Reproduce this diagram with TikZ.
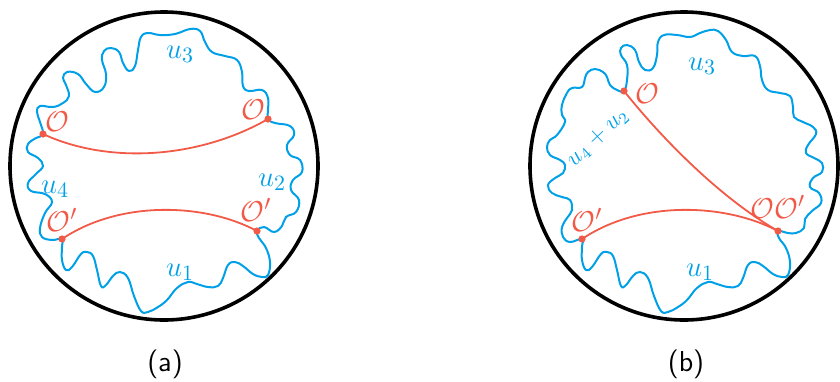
\documentclass[tikz,border=0pt]{standalone}
\usepackage{tikz}

\definecolor{wavecol}{RGB}{0,160,232}
\definecolor{opcol}{RGB}{242,90,72}

\begin{document}
\begin{tikzpicture}[x=0.5pt,y=-0.5pt,
    bdry/.style={line width=1.8pt},
    wave/.style={wavecol,line width=1pt},
    geod/.style={opcol,line width=0.9pt},
    opdot/.style={circle,fill=opcol,inner sep=0pt,minimum size=3.6pt},
    ulab/.style={wavecol,font=\fontsize{15}{17}\selectfont},
    olab/.style={opcol,font=\fontsize{15}{17}\selectfont},
    caplab/.style={font=\sffamily\Large}]
  \useasboundingbox (0,0) rectangle (840,381);

  % (a)
  \begin{scope}
   \draw[bdry] (164,166) circle (77pt);
   \coordinate (aol) at (43,134);
   \coordinate (aor) at (268,119);
   \coordinate (apl) at (62,239);
   \coordinate (apr) at (257,231);
   \draw[wave] plot[smooth cycle,tension=0.7] coordinates {
     (aol) (40,122) (37,112) (40,106) (53,107) (63,103) (69,96) (66,85) (63,78)
     (67,72) (78,74) (86,84) (95,92) (104,87) (106,74) (102,60) (104,51) (111,48)
     (119,52) (123,63) (129,71) (135,66) (138,50) (141,37) (148,33) (160,35)
     (175,34) (190,29) (200,31) (205,42) (212,52) (225,56) (237,60) (242,72)
     (243,86) (249,91) (262,90) (268,98) (268,110) (aor)
     (275,123) (290,126) (294,135) (287,145) (290,155) (300,160) (302,172)
     (293,180) (291,190) (299,200) (296,212) (286,217) (282,226) (274,232)
     (264,227) (apr)
     (259,238) (266,248) (270,262) (268,275) (262,277) (253,274) (243,266)
     (235,262) (228,265) (223,278) (218,286) (208,287) (197,284) (188,282)
     (177,288) (167,300) (158,307) (148,312) (141,311) (134,296) (128,278)
     (120,272) (113,276) (106,285) (101,286) (97,270) (93,256) (87,252) (81,254)
     (72,267) (66,270) (62,260) (62,247) (apl)
     (52,240) (42,237) (40,228) (45,213) (52,202) (45,194) (31,191) (28,183)
     (36,174) (43,166) (38,158) (28,152) (28,144) (36,138)};
   \draw[geod] (aol) .. controls (110,165) and (200,158) .. (aor);
   \draw[geod] (apl) .. controls (120,200) and (205,203) .. (apr);
   \node[opdot] at (aol) {};
   \node[opdot] at (aor) {};
   \node[opdot] at (apl) {};
   \node[opdot] at (apr) {};
   \node[ulab] (au3) at (180,54) {$u_3$};
   \node[ulab] (au2) at (272,182) {$u_2$};
   \node[ulab] (au4) at (55,189) {$u_4$};
   \node[ulab] (au1) at (180,272) {$u_1$};
   \node[olab] (aoll) at (57,122) {$\mathcal{O}$};
   \node[olab] (aorl) at (253,110) {$\mathcal{O}$};
   \node[olab] (apll) at (62,220) {$\mathcal{O}'$};
   \node[olab] (aprl) at (256,210) {$\mathcal{O}'$};
   \node[caplab] (acap) at (165,364) {(a)};
  \end{scope}

  % (b)
  \begin{scope}[shift={(520,0)}]
   \draw[bdry] (164,166) circle (77pt);
   \coordinate (bo) at (104,91);
   \coordinate (bpl) at (62,239);
   \coordinate (boo) at (258,231);
   \draw[wave] plot[smooth cycle,tension=0.7] coordinates {
     (bo) (107,80) (107,65) (101,55) (101,48) (107,45) (115,50) (119,62) (125,70)
     (133,68) (137,55) (138,42) (144,35) (157,35) (170,37) (180,33) (190,30)
     (198,31) (206,40) (212,52) (223,56) (235,56) (240,66) (242,80) (248,90)
     (260,93) (270,96) (273,107) (274,117) (283,122) (293,127) (296,134)
     (288,145) (286,153) (294,158) (302,163) (302,172) (293,178) (290,187)
     (299,193) (301,203) (292,211) (285,219) (284,228) (276,233) (268,233) (boo)
     (259,238) (266,248) (270,262) (268,275) (262,277) (253,274) (243,266)
     (235,262) (228,265) (223,278) (218,286) (208,287) (197,284) (188,282)
     (177,288) (167,300) (158,307) (148,312) (141,311) (134,296) (128,278)
     (120,272) (113,276) (106,285) (101,286) (97,270) (93,256) (87,252) (81,254)
     (72,267) (66,270) (62,260) (62,247) (bpl)
     (50,242) (43,237) (42,227) (47,218) (52,210) (50,200) (42,197) (32,193)
     (28,185) (35,178) (43,173) (45,165) (40,160) (30,155) (27,147) (30,140)
     (37,135) (45,122) (42,115) (42,105) (47,93) (52,88) (62,87) (65,78) (68,72)
     (75,69) (83,72) (87,77) (90,85) (97,90)};
   \draw[geod] (bpl) .. controls (120,200) and (205,203) .. (boo);
   \draw[geod] (bo) .. controls (135,130) and (195,195) .. (boo);
   \node[opdot] at (bo) {};
   \node[opdot] at (bpl) {};
   \node[opdot] at (boo) {};
   \node[ulab] (bu3) at (182,66) {$u_3$};
   \node[ulab] (bu1) at (180,272) {$u_1$};
   \node[ulab,font=\fontsize{12}{14}\selectfont,rotate=43] (bu42) at (78,138) {$u_4+u_2$};
   \node[olab] (bol) at (127,94) {$\mathcal{O}$};
   \node[olab] (bool) at (258,207) {$\mathcal{O}\mathcal{O}'$};
   \node[olab] (bpll) at (67,220) {$\mathcal{O}'$};
   \node[caplab] (bcap) at (166,364) {(b)};
  \end{scope}
\end{tikzpicture}
\end{document}
